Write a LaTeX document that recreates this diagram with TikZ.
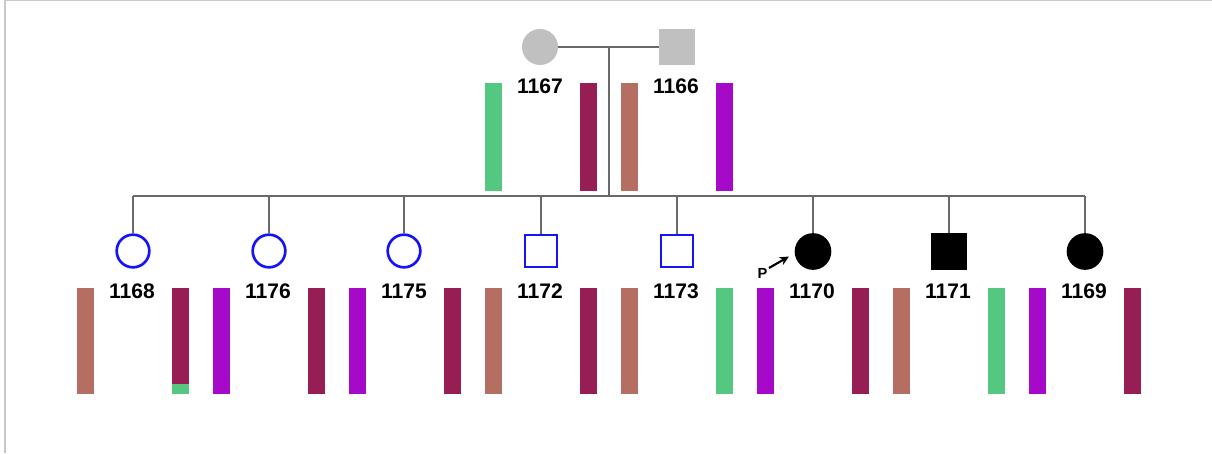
\documentclass[tikz,border=0pt]{standalone}
\usepackage{fontspec}
\setmainfont{Liberation Sans}
\usetikzlibrary{arrows.meta}
\definecolor{cgreen}{RGB}{84,199,128}
\definecolor{cdred}{RGB}{150,30,82}
\definecolor{cbrown}{RGB}{180,110,98}
\definecolor{cpurple}{RGB}{165,10,200}
\definecolor{cblue}{RGB}{20,20,245}
\definecolor{cparent}{RGB}{192,192,192}
\definecolor{cline}{RGB}{105,105,105}
\definecolor{cframe}{RGB}{200,200,200}
\tikzset{
  female/.style={circle, minimum size=34.5pt, inner sep=0pt},
  male/.style={rectangle, minimum size=26.5pt, inner sep=0pt},
  unaff/.style={draw=cblue, line width=2pt},
  aff/.style={fill=black},
  par/.style={fill=cparent},
  lbl/.style={font=\fontsize{15.8}{18}\selectfont\bfseries, inner sep=0pt},
  conn/.style={draw=cline, line width=1.1pt}
}
\begin{document}
\begin{tikzpicture}[x=0.75pt,y=-0.75pt]
\useasboundingbox (0,0) rectangle (1212,453);
\draw[cframe, line width=1pt] (5,453) -- (5,0.5) -- (1212,0.5);
% parents
\node[female, par, minimum size=27pt] (p1167) at (540,47) {};
\node[male, par, minimum size=27pt] (p1166) at (677,47) {};
\coordinate (mar) at (609,47);
\coordinate (sibtop) at (609,196);
\draw[conn] (p1167.east) -- (p1166.west);
\draw[conn] (mar) -- (sibtop);
\node[lbl] (l1167) at (540,86) {1167};
\node[lbl] (l1166) at (676,86) {1166};
% parent bars
\fill[cgreen] (485,83) rectangle (502,191);
\fill[cdred] (580,83) rectangle (597,191);
\fill[cbrown] (621,83) rectangle (638,191);
\fill[cpurple] (716,83) rectangle (733,191);
% children
\node[female, unaff, minimum size=24.5pt] (c1168) at (133,251) {};
\node[female, unaff, minimum size=24.5pt] (c1176) at (269,251) {};
\node[female, unaff, minimum size=24.5pt] (c1175) at (404,251) {};
\node[male, unaff, minimum size=24.2pt] (c1172) at (541,251) {};
\node[male, unaff, minimum size=24.2pt] (c1173) at (677,251) {};
\node[female, aff, minimum size=27.5pt] (c1170) at (813,251.5) {};
\node[male, aff, minimum size=27.5pt] (c1171) at (949,251.5) {};
\node[female, aff, minimum size=27.5pt] (c1169) at (1085,251.5) {};
\coordinate (sl) at (133,196);
\coordinate (sr) at (1085,196);
\draw[conn] (sl) -- (sr);
\foreach \n in {1168,1176,1175,1172,1173,1170,1171,1169}
  \draw[conn] (c\n.north |- sl) -- (c\n.north);
% labels
\node[lbl] (l1168) at (132,291) {1168};
\node[lbl] (l1176) at (268,291) {1176};
\node[lbl] (l1175) at (404,291) {1175};
\node[lbl] (l1172) at (540,291) {1172};
\node[lbl] (l1173) at (676,291) {1173};
\node[lbl] (l1170) at (812,291) {1170};
\node[lbl] (l1171) at (948,291) {1171};
\node[lbl] (l1169) at (1084,291) {1169};
% proband
\node[font=\fontsize{11}{13}\selectfont\bfseries, inner sep=0pt] (pP) at (762.5,273.5) {P};
\coordinate (pa) at (769,268);
\coordinate (pb) at (789,256.5);
\draw[-{Stealth[length=7pt,width=6.5pt]}, line width=1.6pt] (pa) -- (pb);
% child bars
\fill[cbrown] (77,288) rectangle (94,394);
\fill[cdred] (172,288) rectangle (189,384);
\fill[cgreen] (172,384) rectangle (189,394);
\fill[cpurple] (213,288) rectangle (230,394);
\fill[cdred] (308,288) rectangle (325,394);
\fill[cpurple] (349,288) rectangle (366,394);
\fill[cdred] (444,288) rectangle (461,394);
\fill[cbrown] (485,288) rectangle (502,394);
\fill[cdred] (580,288) rectangle (597,394);
\fill[cbrown] (621,288) rectangle (638,394);
\fill[cgreen] (716,288) rectangle (733,394);
\fill[cpurple] (757,288) rectangle (774,394);
\fill[cdred] (852,288) rectangle (869,394);
\fill[cbrown] (893,288) rectangle (910,394);
\fill[cgreen] (988,288) rectangle (1005,394);
\fill[cpurple] (1029,288) rectangle (1046,394);
\fill[cdred] (1124,288) rectangle (1141,394);
\end{tikzpicture}
\end{document}
